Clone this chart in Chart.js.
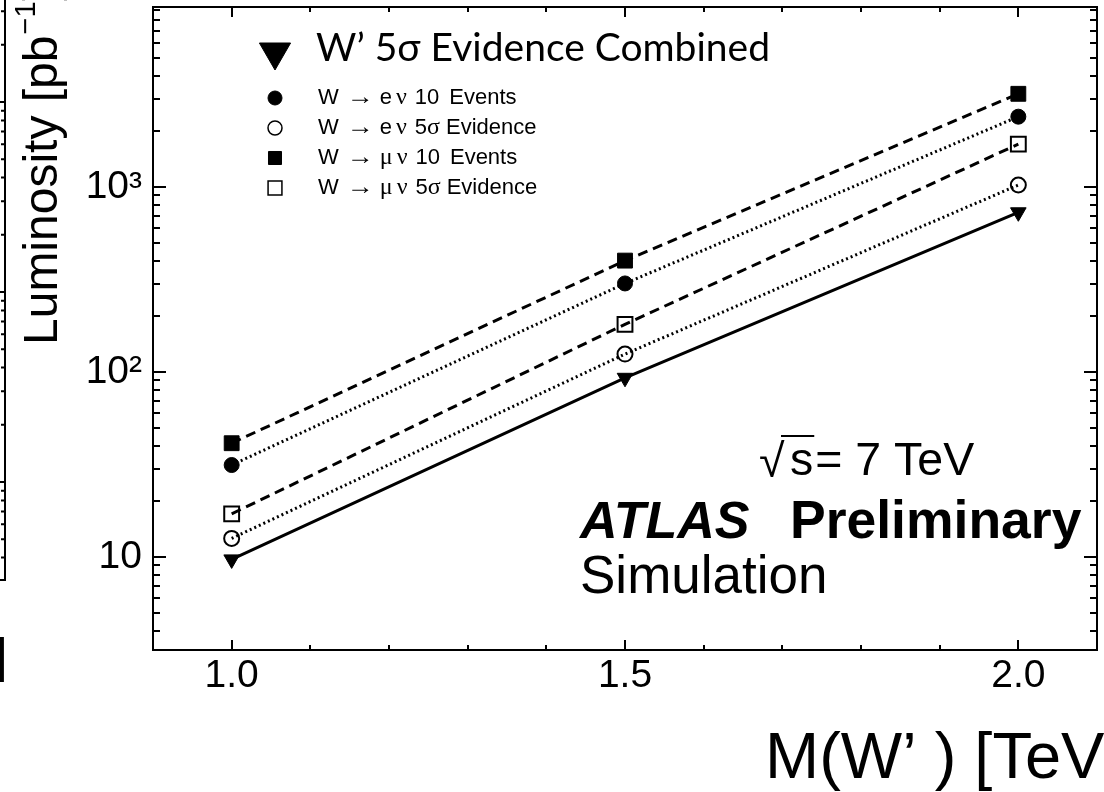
<!DOCTYPE html>
<html>
<head>
<meta charset="utf-8">
<script src="https://cdn.jsdelivr.net/npm/chart.js@4/dist/chart.umd.min.js"></script>
<style>
  html, body { margin: 0; padding: 0; background: #fff; }
  #wrap { width: 1104px; height: 792px; position: relative; }
</style>
</head>
<body>
<div id="wrap"><canvas id="c" width="1104" height="792"></canvas></div>
<script>
// W' mass points [TeV]
const masses = [1.0, 1.5, 2.0];

// Required integrated luminosity [pb^-1]
const wprimeCombined = [9.7, 93, 730];
const enu10Events    = [31.4, 301, 2400];
const enu5Sigma      = [12.6, 125, 1025];
const munu10Events   = [41.2, 400, 3190];
const munu5Sigma     = [17.1, 181, 1706];

// Axis ticks
const xTickValues = [1.0, 1.5, 2.0];
const xTickLabels = ['1.0', '1.5', '2.0'];
const yTickValues = [10, 100, 1000];
const yTickLabels = ['10', '10²', '10³'];

const SANS = '"Liberation Sans", Arial, Helvetica, sans-serif';
const SERIF = '"Liberation Serif", "Times New Roman", serif';
const TITLE_FONT = 'Lato, "Open Sans", sans-serif';

const pts = vals => masses.map((m, i) => ({ x: m, y: vals[i] }));

const datasets = [
  { label: 'W’ 5σ Evidence Combined', data: pts(wprimeCombined),
    borderColor: '#000', borderWidth: 3, borderDash: [],
    pointStyle: 'triangle', rotation: 180, pointRadius: 9,
    pointBackgroundColor: '#000', pointBorderColor: '#000', pointBorderWidth: 1,
    legendRadius: 18, legendBorder: 1, isTitle: true },
  { label: 'W → e ν 10 Events', data: pts(enu10Events),
    borderColor: '#000', borderWidth: 3, borderDash: [2, 3],
    pointStyle: 'circle', pointRadius: 7.5,
    pointBackgroundColor: '#000', pointBorderColor: '#000', pointBorderWidth: 1,
    legendRadius: 7, legendBorder: 1 },
  { label: 'W → e ν 5σ Evidence', data: pts(enu5Sigma),
    borderColor: '#000', borderWidth: 3, borderDash: [2, 3],
    pointStyle: 'circle', pointRadius: 7.5,
    pointBackgroundColor: 'rgba(0,0,0,0)', pointBorderColor: '#000', pointBorderWidth: 2,
    legendRadius: 7, legendBorder: 1.5 },
  { label: 'W → μ ν 10 Events', data: pts(munu10Events),
    borderColor: '#000', borderWidth: 3, borderDash: [10, 6],
    pointStyle: 'rect', pointRadius: 10.5,
    pointBackgroundColor: '#000', pointBorderColor: '#000', pointBorderWidth: 1,
    legendRadius: 9.2, legendBorder: 1 },
  { label: 'W → μ ν 5σ Evidence', data: pts(munu5Sigma),
    borderColor: '#000', borderWidth: 3, borderDash: [10, 6],
    pointStyle: 'rect', pointRadius: 10.5,
    pointBackgroundColor: 'rgba(0,0,0,0)', pointBorderColor: '#000', pointBorderWidth: 2,
    legendRadius: 9.8, legendBorder: 1.5 }
];
datasets.forEach(d => { d.tension = 0; d.fill = false; d.pointHoverRadius = d.pointRadius; });

// Frame with ticks on all four sides, pointing inward
const framePlugin = {
  id: 'frameTicks',
  afterDatasetsDraw(chart) {
    const { ctx, chartArea: a, scales: { x, y } } = chart;
    ctx.save();
    ctx.strokeStyle = '#000';
    ctx.lineWidth = 2;
    ctx.beginPath();
    for (let k = 9; k <= 21; k++) {
      const v = k / 10;
      const px = Math.round(x.getPixelForValue(v));
      if (px <= a.left + 1 || px >= a.right - 1) continue;
      const major = xTickValues.some(t => Math.abs(t - v) < 1e-6);
      const len = major ? 10 : 5;
      ctx.moveTo(px, a.bottom); ctx.lineTo(px, a.bottom - len);
      ctx.moveTo(px, a.top); ctx.lineTo(px, a.top + len);
    }
    for (let e = 0; e <= 3; e++) {
      for (let m = 1; m <= 9; m++) {
        const v = m * Math.pow(10, e);
        if (v < y.min || v > y.max) continue;
        const py = Math.round(y.getPixelForValue(v));
        const len = m === 1 ? 13 : 7;
        ctx.moveTo(a.left, py); ctx.lineTo(a.left + len, py);
        ctx.moveTo(a.right, py); ctx.lineTo(a.right - len, py);
      }
    }
    ctx.stroke();
    ctx.strokeRect(a.left, a.top, a.right - a.left, a.bottom - a.top);
    ctx.restore();
  }
};

// Draws one word; Greek letters and arrows use a serif face
function drawToken(ctx, tok, x, y, size) {
  const parts = tok.match(/[σνμ→]|[^σνμ→]+/g);
  let cx = x;
  for (const p of parts) {
    const sym = /[σνμ→]/.test(p);
    ctx.font = (sym ? size + 2 : size) + 'px ' + (sym ? SERIF : SANS);
    if (p === '→') {
      // long thin arrow
      const w = ctx.measureText(p).width;
      const target = 27;
      ctx.save();
      ctx.translate(cx, y);
      ctx.scale(target / w, 1);
      ctx.fillText(p, 0, 0);
      ctx.restore();
      cx += target;
    } else {
      ctx.fillText(p, cx, y);
      cx += ctx.measureText(p).width;
    }
  }
  return cx;
}

// Gaps after each word of the legend labels
const tokenGap = { 'W': 8, '→': 6, 'e': 4, 'μ': 4, 'ν': 8, '10': 10, '5σ': 6 };

function drawLegendLabel(ctx, label, x, y, size) {
  let cx = x;
  for (const tok of label.split(' ')) {
    cx = drawToken(ctx, tok, cx, y, size);
    cx += (tokenGap[tok] !== undefined ? tokenGap[tok] : 6);
  }
}

// Legend, labels and axis titles
const annotationPlugin = {
  id: 'annotations',
  afterDraw(chart) {
    const ctx = chart.ctx;
    const H = Chart.helpers;
    ctx.save();
    ctx.fillStyle = '#000';
    ctx.strokeStyle = '#000';

    // legend
    const legX = 275, textX = 318;
    const rowY = [52, 98, 128, 158, 188];
    chart.data.datasets.forEach((d, i) => {
      const yy = rowY[i];
      ctx.fillStyle = d.pointBackgroundColor;
      ctx.strokeStyle = '#000';
      ctx.lineWidth = d.legendBorder;
      H.drawPoint(ctx, { pointStyle: d.pointStyle, rotation: d.rotation || 0,
        radius: d.legendRadius, borderWidth: d.legendBorder }, legX, yy);
      ctx.fillStyle = '#000';
      ctx.textBaseline = 'middle';
      ctx.textAlign = 'left';
      if (d.isTitle) {
        ctx.font = '39px ' + TITLE_FONT;
        ctx.fillText(d.label, textX - 2, yy - 4);
      } else {
        drawLegendLabel(ctx, d.label, textX, yy, 22);
      }
    });

    // sqrt(s) = 7 TeV
    ctx.textBaseline = 'alphabetic';
    ctx.font = '46.5px ' + SANS;
    ctx.fillText('√', 759, 477);
    ctx.fillText('s', 790, 475);
    const sW = ctx.measureText('s').width;
    ctx.lineWidth = 2;
    ctx.beginPath();
    ctx.moveTo(781, 436);
    ctx.lineTo(790 + sW + 1, 436);
    ctx.stroke();
    ctx.fillText('= 7 TeV', 790 + sW + 2, 475);

    // ATLAS Preliminary / Simulation
    ctx.font = 'italic bold 52px ' + SANS;
    ctx.fillText('ATLAS', 580, 538);
    ctx.font = 'bold 53.5px ' + SANS;
    ctx.fillText('Preliminary', 790, 538);
    ctx.font = '53px ' + SANS;
    ctx.fillText('Simulation', 580, 593);

    // y-axis title (rotated)
    ctx.save();
    ctx.translate(57, 345);
    ctx.rotate(-Math.PI / 2);
    ctx.textAlign = 'left';
    ctx.font = '48px ' + SANS;
    const base = 'Luminosity [pb';
    ctx.fillText(base, 0, 0);
    let w = ctx.measureText(base).width;
    ctx.font = '29px ' + SANS;
    ctx.fillText('−1', w + 1, -22);
    w += ctx.measureText('−1').width + 2;
    ctx.font = '48px ' + SANS;
    ctx.fillText(']', w, 0);
    ctx.restore();

    // x-axis title
    ctx.font = '65px ' + SANS;
    ctx.textAlign = 'left';
    ctx.fillText('M(W’ ) [TeV]', 765, 778);

    // edge of the neighbouring panel on the left
    ctx.lineWidth = 2;
    ctx.beginPath();
    ctx.moveTo(5, 0); ctx.lineTo(5, 580); ctx.lineTo(0, 580);
    const decade = 190;
    [482, 292, 102].forEach(yb => {
      for (let m = 1; m <= 9; m++) {
        const yy = yb - Math.log10(m) * decade;
        if (yy < 0 || yy > 580) continue;
        ctx.moveTo(5, yy); ctx.lineTo(m === 1 ? -1 : 1, yy);
      }
    });
    for (let m = 2; m <= 9; m++) {
      const yy = 482 + decade - Math.log10(m) * decade;
      if (yy > 580) continue;
      ctx.moveTo(5, yy); ctx.lineTo(1, yy);
    }
    ctx.stroke();
    ctx.font = '48px ' + SANS;
    ctx.fillText(']', -6, 672);

    ctx.restore();
  }
};

new Chart(document.getElementById('c'), {
  type: 'line',
  data: { datasets },
  options: {
    responsive: false,
    animation: false,
    layout: { autoPadding: false, padding: { left: 0, top: 7, right: 7, bottom: 0 } },
    plugins: { legend: { display: false }, tooltip: { enabled: false } },
    scales: {
      x: {
        type: 'linear', min: 0.9, max: 2.1,
        afterBuildTicks(s) { s.ticks = xTickValues.map(v => ({ value: v })); },
        afterFit(s) { s.height = 142; s.paddingLeft = 0; s.paddingRight = 0; },
        ticks: {
          callback: v => xTickLabels[xTickValues.findIndex(t => Math.abs(t - v) < 1e-6)],
          font: { family: SANS, size: 39 }, color: '#000', padding: 3, maxRotation: 0, autoSkip: false
        },
        grid: { display: false, drawTicks: false },
        border: { display: false }
      },
      y: {
        type: 'logarithmic', min: 3.14, max: 9400,
        afterBuildTicks(s) { s.ticks = yTickValues.map(v => ({ value: v })); },
        afterFit(s) { s.width = 153; s.paddingTop = 0; s.paddingBottom = 0; },
        ticks: {
          callback: v => yTickLabels[yTickValues.indexOf(v)],
          font: { family: SANS, size: 39 }, color: '#000', padding: 11, autoSkip: false
        },
        grid: { display: false, drawTicks: false },
        border: { display: false }
      }
    }
  },
  plugins: [framePlugin, annotationPlugin]
});
</script>
</body>
</html>
